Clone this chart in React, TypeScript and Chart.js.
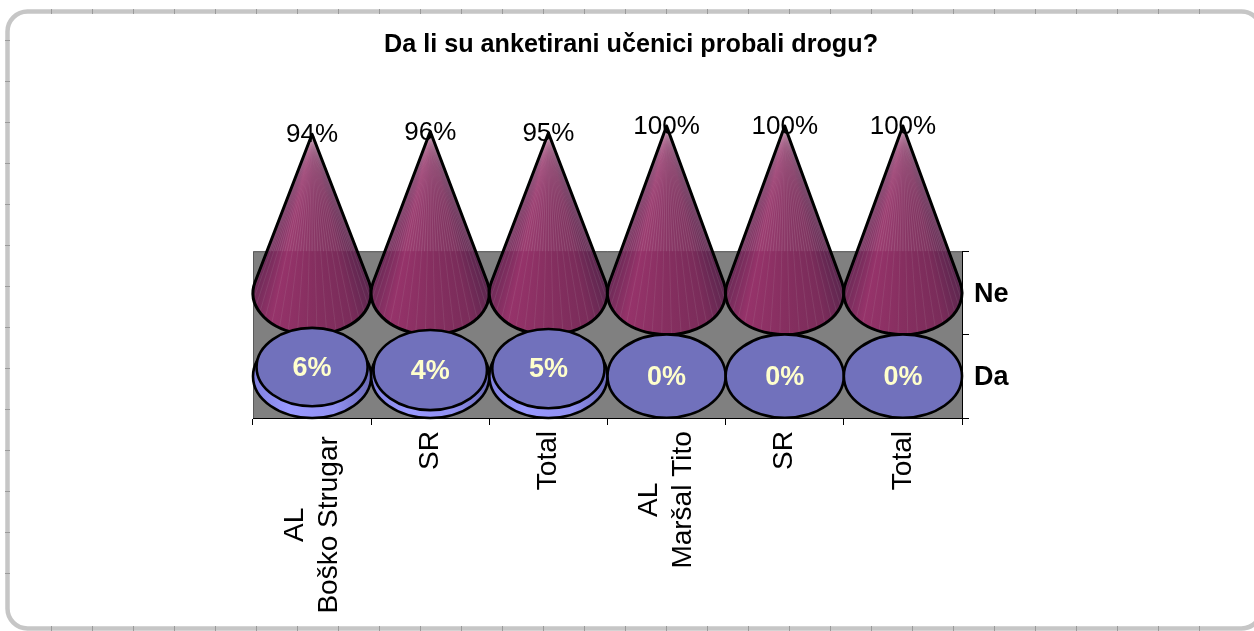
import React, { useEffect, useRef } from "react";
import { Chart, registerables } from "chart.js";

Chart.register(...registerables);

const FONT = '"Liberation Sans", Arial, sans-serif';
const titleText = "Da li su anketirani učenici probali drogu?";
const categories = [["AL", "Boško Strugar"], "SR", "Total", ["AL", "Maršal Tito"], "SR", "Total"];
const rows = ["Ne", "Da"];
const neValues = [94, 96, 95, 100, 100, 100];
const daValues = [6, 4, 5, 0, 0, 0];

const CONE_STOPS: [number, string][] = [
  [0, "#6a2a56"],
  [0.22, "#96336a"],
  [0.5, "#862f60"],
  [0.78, "#7a2c5a"],
  [1, "#5a264e"],
];

function drawCone(ctx: CanvasRenderingContext2D, cx: number, base: number, apex: number, rx: number, ry: number, plotTop: number) {
  const h = base - apex;
  const yt = -(ry * ry) / h;
  const startAngle = Math.asin(yt / ry);
  const from = Math.PI - startAngle;
  const to = startAngle;
  const tanX = rx * Math.cos(startAngle);
  const tanY = base + yt;

  const outline = () => {
    ctx.beginPath();
    ctx.moveTo(cx, apex);
    ctx.lineTo(cx + rx * Math.cos(from), base + ry * Math.sin(from));
    ctx.ellipse(cx, base, rx, ry, 0, from, to, true);
    ctx.closePath();
  };

  // Shading runs around the apex, so it is a conic fill.
  const aStart = Math.atan2(tanY - apex, tanX);
  const span = Math.atan2(tanY - apex, -tanX) - aStart;
  const g = ctx.createConicGradient(aStart, cx, apex);
  [...CONE_STOPS].reverse().forEach(([u, c]) => {
    const a = Math.atan2(tanY - apex, (2 * u - 1) * tanX);
    g.addColorStop(Math.max(0, Math.min(1, (a - aStart) / (2 * Math.PI))), c);
  });
  g.addColorStop(Math.min(1, span / (2 * Math.PI) + 0.01), "#6a2a56");

  ctx.save();
  outline();
  ctx.fillStyle = g;
  ctx.fill();
  ctx.clip();

  // Seams between the facets: the page shows through them, white above the plot, grey inside it.
  const N = 44;
  ctx.lineWidth = 0.7;
  ctx.save();
  ctx.beginPath();
  ctx.rect(cx - rx - 2, apex - 4, 2 * rx + 4, plotTop - apex + 4);
  ctx.clip();
  ctx.fillStyle = "rgba(255,255,255,0.04)";
  ctx.fillRect(cx - rx - 2, apex - 4, 2 * rx + 4, plotTop - apex + 4);
  ctx.strokeStyle = "rgba(255,255,255,0.17)";
  for (let i = 1; i < N; i++) {
    const t = from + ((to - from) * i) / N;
    ctx.beginPath();
    ctx.moveTo(cx, apex);
    ctx.lineTo(cx + rx * Math.cos(t), base + ry * Math.sin(t));
    ctx.stroke();
  }
  ctx.restore();

  ctx.save();
  ctx.beginPath();
  ctx.rect(cx - rx - 2, plotTop, 2 * rx + 4, base + ry - plotTop + 4);
  ctx.clip();
  ctx.strokeStyle = "rgba(200,200,200,0.16)";
  for (let i = 1; i < N; i += 2) {
    const t = from + ((to - from) * i) / N;
    ctx.beginPath();
    ctx.moveTo(cx, apex);
    ctx.lineTo(cx + rx * Math.cos(t), base + ry * Math.sin(t));
    ctx.stroke();
  }
  ctx.restore();
  ctx.restore();

  outline();
  ctx.lineJoin = "round";
  ctx.lineWidth = 3;
  ctx.strokeStyle = "#000";
  ctx.stroke();
}

function drawDisc(ctx: CanvasRenderingContext2D, cx: number, base: number, top: number, rx: number, ry: number, taper: number) {
  ctx.lineWidth = 2.6;
  ctx.strokeStyle = "#000";
  if (base - top > 0.5) {
    const g = ctx.createLinearGradient(cx - rx, 0, cx + rx, 0);
    g.addColorStop(0, "#8080dd");
    g.addColorStop(0.3, "#9999ff");
    g.addColorStop(0.7, "#9090f0");
    g.addColorStop(1, "#6a6ab8");
    ctx.beginPath();
    ctx.ellipse(cx, base, rx, ry, 0, 0, Math.PI * 2);
    ctx.fillStyle = g;
    ctx.fill();
    ctx.stroke();
  }
  ctx.beginPath();
  ctx.ellipse(cx, top, rx * taper, ry * taper, 0, 0, Math.PI * 2);
  ctx.fillStyle = "#7171bc";
  ctx.fill();
  ctx.stroke();
}

const framePlugin = {
  id: "frame",
  beforeDraw(chart: any) {
    const { ctx, chartArea: a } = chart;
    ctx.save();
    ctx.fillStyle = "#fff";
    ctx.fillRect(0, 0, chart.width, chart.height);
    ctx.beginPath();
    ctx.roundRect(7.5, 11.5, 1254, 617, 20);
    ctx.lineWidth = 4.5;
    ctx.strokeStyle = "#c6c6c6";
    ctx.stroke();
    ctx.strokeStyle = "#9a9a9a";
    ctx.lineWidth = 1;
    for (let x = 51.5; x < 1230; x += 41) {
      ctx.beginPath();
      ctx.moveTo(x, 9);
      ctx.lineTo(x, 14);
      ctx.moveTo(x, 626);
      ctx.lineTo(x, 631);
      ctx.stroke();
    }
    for (let y = 40.5; y < 600; y += 41) {
      ctx.beginPath();
      ctx.moveTo(5, y);
      ctx.lineTo(10, y);
      ctx.stroke();
    }
    ctx.fillStyle = "#808080";
    ctx.fillRect(a.left, a.top, a.right - a.left, a.bottom - a.top);
    ctx.strokeStyle = "#595959";
    ctx.lineWidth = 1;
    ctx.beginPath();
    ctx.moveTo(a.left + 0.5, a.bottom);
    ctx.lineTo(a.left + 0.5, a.top + 0.5);
    ctx.lineTo(a.right, a.top + 0.5);
    ctx.stroke();
    ctx.restore();

    // Multi-line rotated ticks are centred line by line in the reference.
    const sx = chart.scales.x;
    ctx.save();
    ctx.font = `28px ${FONT}`;
    sx.getLabelItems().forEach((item: any) => {
      if (Array.isArray(item.label) && !item.__centred) {
        const w = Math.max(...item.label.map((l: string) => ctx.measureText(l).width));
        item.options.textAlign = "center";
        item.options.translation = [
          item.options.translation[0] - 17,
          item.options.translation[1] + w / 2 + (w - 136) * 0.125,
        ];
        item.__centred = true;
      }
    });
    ctx.restore();
    chart.scales.ySeries.getLabelItems().forEach((item: any) => {
      if (!item.__nudged) {
        item.options.translation = [item.options.translation[0], item.options.translation[1] + 1.5];
        item.__nudged = true;
      }
    });
  },
  afterDatasetsDraw(chart: any) {
    const { ctx, chartArea } = chart;
    const rowScale = chart.scales.ySeries;
    const neBase = rowScale.getPixelForValue(0);
    const daBase = rowScale.getPixelForValue(1);
    const ry = (daBase - neBase) / 2;
    const metaDa = chart.getDatasetMeta(0);
    const metaNe = chart.getDatasetMeta(1);
    ctx.save();
    metaNe.data.forEach((el: any) => {
      drawCone(ctx, el.x, neBase, el.y, el.width / 2, ry, chartArea.top);
    });
    metaDa.data.forEach((el: any, i: number) => {
      drawDisc(ctx, el.x, daBase, el.y, el.width / 2, ry, 1 - daValues[i] / 100);
    });
    ctx.textAlign = "center";
    ctx.textBaseline = "middle";
    ctx.font = `26px ${FONT}`;
    ctx.fillStyle = "#000";
    metaNe.data.forEach((el: any, i: number) => {
      ctx.fillText(`${neValues[i]}%`, el.x, el.y + 1);
    });
    ctx.font = `bold 27px ${FONT}`;
    ctx.fillStyle = "#ffffcc";
    metaDa.data.forEach((el: any, i: number) => {
      ctx.fillText(`${daValues[i]}%`, el.x, el.y + 1);
    });
    ctx.restore();
  },
};

export default function App() {
  const ref = useRef<HTMLCanvasElement>(null);
  useEffect(() => {
    if (!ref.current) return;
    const chart = new Chart(ref.current, {
      type: "bar",
      plugins: [framePlugin],
      data: {
        labels: categories as any,
        datasets: [
          { label: "Da", data: daValues, yAxisID: "yDa", grouped: false, backgroundColor: "transparent", barPercentage: 1, categoryPercentage: 1 },
          { label: "Ne", data: neValues, yAxisID: "yNe", grouped: false, backgroundColor: "transparent", barPercentage: 1, categoryPercentage: 1 },
        ],
      },
      options: {
        responsive: false,
        animation: false,
        events: [],
        layout: { padding: { left: 8, right: 0, top: 0, bottom: 0 } },
        plugins: {
          legend: { display: false },
          tooltip: { enabled: false },
          title: {
            display: true,
            text: titleText,
            color: "#000",
            font: { family: FONT, size: 25.2, weight: "bold", lineHeight: 1.2 },
            padding: { top: 30, bottom: 191 },
          },
        },
        scales: {
          x: {
            type: "category",
            offset: true,
            grid: { offset: true, drawOnChartArea: false, drawTicks: true, tickLength: 7, color: "#000" },
            border: { display: true, color: "#000", width: 1 },
            ticks: {
              autoSkip: false,
              minRotation: 90,
              maxRotation: 90,
              padding: 6,
              color: "#000",
              font: { family: FONT, size: 28, lineHeight: 1.22 },
            },
            afterFit: (s: any) => {
              s.height = 213;
            },
          },
          ySeries: {
            type: "category",
            axis: "y",
            position: "right",
            labels: rows,
            offset: true,
            grid: { offset: true, drawOnChartArea: false, drawTicks: true, tickLength: 7, color: "#000" },
            border: { display: true, color: "#000", width: 1 },
            ticks: { padding: 5, color: "#000", font: { family: FONT, size: 27, weight: "bold" } },
            afterFit: (s: any) => {
              s.width = 292;
            },
          },
          yDa: {
            type: "linear",
            axis: "y",
            position: "left",
            display: true,
            min: -28,
            max: 83.33,
            ticks: { display: false },
            grid: { display: false },
            border: { display: false },
            afterFit: (s: any) => {
              s.width = 245;
            },
          },
          yNe: { type: "linear", axis: "y", display: false, min: -108.93, max: 10.36 },
        },
      } as any,
    });
    return () => chart.destroy();
  }, []);
  return (
    <canvas
      ref={ref}
      width={1254}
      height={631}
      style={{ position: "absolute", left: 0, top: 0, width: 1254, height: 631, display: "block" }}
    />
  );
}
